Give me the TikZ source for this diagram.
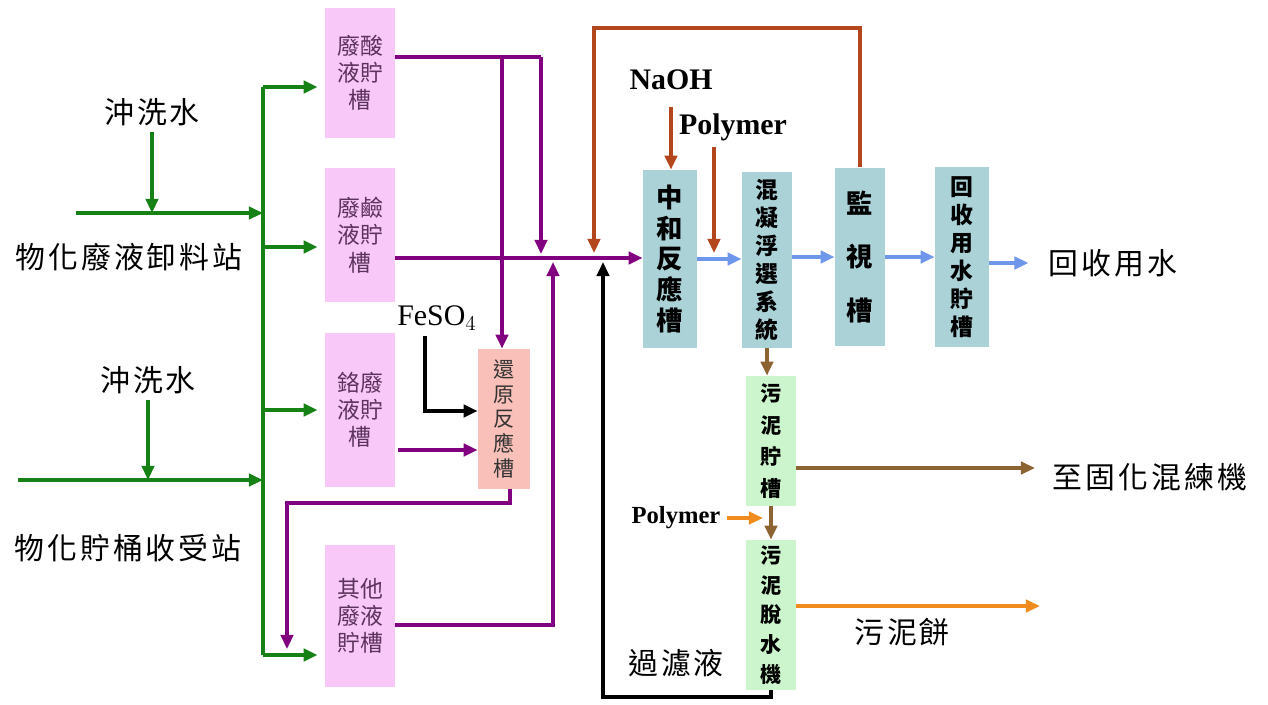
\documentclass[tikz,border=0pt]{standalone}
\usepackage{fontspec}
\setmainfont{Liberation Serif}
\newfontfamily\cjk{Noto Sans CJK TC}
\newfontfamily\cjkwide[LetterSpace=10]{Noto Sans CJK TC}
\usepackage{tikz}
\usetikzlibrary{arrows.meta}

\definecolor{flowgreen}{RGB}{22,130,22}
\definecolor{violetline}{RGB}{128,0,128}
\definecolor{rustline}{RGB}{180,70,30}
\definecolor{blueline}{RGB}{110,150,235}
\definecolor{brownline}{RGB}{140,100,50}
\definecolor{orangeline}{RGB}{240,140,30}
\definecolor{pinkfill}{RGB}{248,200,248}
\definecolor{salmonfill}{RGB}{248,192,184}
\definecolor{tealfill}{RGB}{170,210,215}
\definecolor{mintfill}{RGB}{205,245,205}

\begin{document}
\begin{tikzpicture}[x=0.02cm, y=-0.02cm,
    pipe/.style={line width=2pt},
    arr/.style={-{Triangle[length=8pt,width=7pt]}},
    tank/.style={inner sep=0pt, align=center, text=black!80},
    pinktank/.style={tank, fill=pinkfill, minimum width=1.4cm, text=violetline!40!black!80, font=\cjk\fontsize{13}{15.5}\selectfont},
    bluetank/.style={tank, fill=tealfill, text=black},
    greentank/.style={tank, fill=mintfill, minimum width=1cm, text=black},
    biglabel/.style={font=\cjkwide\fontsize{17}{20}\selectfont},
    chem/.style={font=\bfseries\fontsize{17}{20}\selectfont}]
    \useasboundingbox (0,0) rectangle (1268,704);

    % 站點與沖洗水
    \node[biglabel] (wash1) at (152,112) {沖洗水};
    \node[biglabel] (station1) at (129,257) {物化廢液卸料站};
    \node[biglabel] (wash2) at (148,380) {沖洗水};
    \node[biglabel] (station2) at (128,548) {物化貯桶收受站};
    \coordinate (in1) at (76,213);
    \coordinate (in2) at (18,480);
    \coordinate (busTop) at (263,87);
    \coordinate (busBot) at (263,655);

    % 貯槽
    \node[pinktank, minimum height=2.6cm] (acid) at (360,73) {廢酸\\液貯\\槽};
    \node[pinktank, minimum height=2.68cm] (alkali) at (360,235) {廢鹼\\液貯\\槽};
    \node[pinktank, minimum height=3.1cm] (chrome) at (360,410) {鉻廢\\液貯\\槽};
    \node[pinktank, minimum height=2.86cm] (other) at (360,616) {其他\\廢液\\貯槽};
    \node[tank, fill=salmonfill, minimum width=1.04cm, minimum height=2.8cm,
          font=\cjk\fontsize{12}{14.2}\selectfont] (reduce) at (504,419) {還\\原\\反\\應\\槽};

    % 處理槽
    \node[bluetank, minimum width=1.08cm, minimum height=3.56cm,
          font=\cjk\bfseries\fontsize{15}{17.6}\selectfont] (neutral) at (670,259) {中\\和\\反\\應\\槽};
    \node[bluetank, minimum width=1cm, minimum height=3.52cm,
          font=\cjk\bfseries\fontsize{13}{15.9}\selectfont] (coag) at (767,260) {混\\凝\\浮\\選\\系\\統};
    \node[bluetank, minimum width=1cm, minimum height=3.58cm,
          font=\cjk\bfseries\fontsize{15}{30.6}\selectfont] (monitor) at (860,257) {監\\視\\槽};
    \node[bluetank, minimum width=1.08cm, minimum height=3.62cm,
          font=\cjk\bfseries\fontsize{13}{15.9}\selectfont] (reuse) at (962,257) {回\\收\\用\\水\\貯\\槽};
    \node[greentank, minimum height=2.6cm,
          font=\cjk\bfseries\fontsize{12}{18}\selectfont] (sludgetank) at (771,441) {污\\泥\\貯\\槽};
    \node[greentank, minimum height=3cm,
          font=\cjk\bfseries\fontsize{12}{17}\selectfont] (press) at (771,615) {污\\泥\\脫\\水\\機};

    % 藥劑與出口標示
    \node[chem] (naoh) at (671,80) {NaOH};
    \node[chem] (polymer1) at (733,127) {Polymer};
    \node[font=\bfseries\fontsize{14}{16}\selectfont] (polymer2) at (676,518) {Polymer};
    \node[font=\fontsize{17}{20}\selectfont] (feso4) at (437,318) {FeSO$_4$};
    \node[biglabel] (reusewater) at (1113,263) {回收用水};
    \node[biglabel] (solidify) at (1150,477) {至固化混練機};
    \node[biglabel] (cake) at (902,632) {污泥餅};
    \node[biglabel] (filtrate) at (676,663) {過濾液};

    % 綠線
    \draw[pipe, flowgreen, arr] (wash1) -- (wash1 |- in1);
    \draw[pipe, flowgreen, arr] (in1) -- (busTop |- in1);
    \draw[pipe, flowgreen, arr] (wash2) -- (wash2 |- in2);
    \draw[pipe, flowgreen, arr] (in2) -- (busTop |- in2);
    \draw[pipe, flowgreen] (busTop) -- (busBot);
    \coordinate (j2) at (263,247);
    \coordinate (j3) at (263,410);
    \draw[pipe, flowgreen, arr, shorten >=4pt] (busTop) -- (busTop -| acid.west);
    \draw[pipe, flowgreen, arr, shorten >=4pt] (j2) -- (j2 -| alkali.west);
    \draw[pipe, flowgreen, arr, shorten >=4pt] (j3) -- (j3 -| chrome.west);
    \draw[pipe, flowgreen, arr, shorten >=4pt] (busBot) -- (busBot -| other.west);

    % 紫線
    \coordinate (a1) at (541,57);
    \coordinate (a2) at (502,57);
    \coordinate (main) at (541,258);
    \draw[pipe, violetline] (acid.east |- a1) -- (a1);
    \draw[pipe, violetline, arr] (a1) -- (541,254);
    \draw[pipe, violetline, arr] (a2) -- (a2 |- reduce.north);
    \draw[pipe, violetline, arr] (alkali.east |- main) -- (neutral.west |- main);
    \coordinate (c1) at (398,450);
    \draw[pipe, violetline, arr] (c1) -- (c1 -| reduce.west);
    \coordinate (r1) at (510,503);
    \coordinate (r2) at (287,503);
    \draw[pipe, violetline, arr] (r1 |- reduce.south) -- (r1) -- (r2) -- (287,649);
    \coordinate (o1) at (553,625);
    \draw[pipe, violetline, arr] (other.east |- o1) -- (o1) -- (553,262);

    % 黑線
    \coordinate (fe1) at (425,411);
    \draw[pipe, black, arr] (fe1 |- feso4.south) -- (fe1) -- (fe1 -| reduce.west);
    \coordinate (f1) at (771,697);
    \coordinate (f2) at (603,697);
    \draw[pipe, black, arr] (press.south) -- (f1) -- (f2) -- (603,262);

    % 加藥與迴流
    \draw[pipe, rustline, arr, shorten <=6pt] (naoh.south) -- (naoh.south |- neutral.north);
    \coordinate (pm) at (714,253);
    \draw[pipe, rustline, arr] (pm |- polymer1.south) -- (pm);
    \coordinate (rc1) at (594,28);
    \coordinate (rc2) at (594,253);
    \draw[pipe, rustline, arr] (monitor.north) |- (rc1) -- (rc2);

    % 藍線
    \draw[pipe, blueline, arr] (neutral.east) -- (coag.west |- neutral.east);
    \draw[pipe, blueline, arr] (coag.east |- monitor.east) -- (monitor.west);
    \draw[pipe, blueline, arr] (monitor.east) -- (reuse.west |- monitor.east);
    \draw[pipe, blueline, arr, shorten >=8pt] (reuse.east |- reusewater.west) -- (reusewater.west);

    % 污泥
    \draw[pipe, brownline, arr] (coag.south) -- (coag.south |- sludgetank.north);
    \coordinate (so1) at (1035,468);
    \draw[pipe, brownline, arr] (sludgetank.east |- so1) -- (so1);
    \draw[pipe, brownline, arr] (sludgetank.south) -- (press.north);
    \coordinate (pm2) at (763,518);
    \draw[pipe, orangeline, arr] (polymer2.east) -- (pm2);
    \coordinate (ck) at (1040,606);
    \draw[pipe, orangeline, arr] (press.east |- ck) -- (ck);
\end{tikzpicture}
\end{document}
